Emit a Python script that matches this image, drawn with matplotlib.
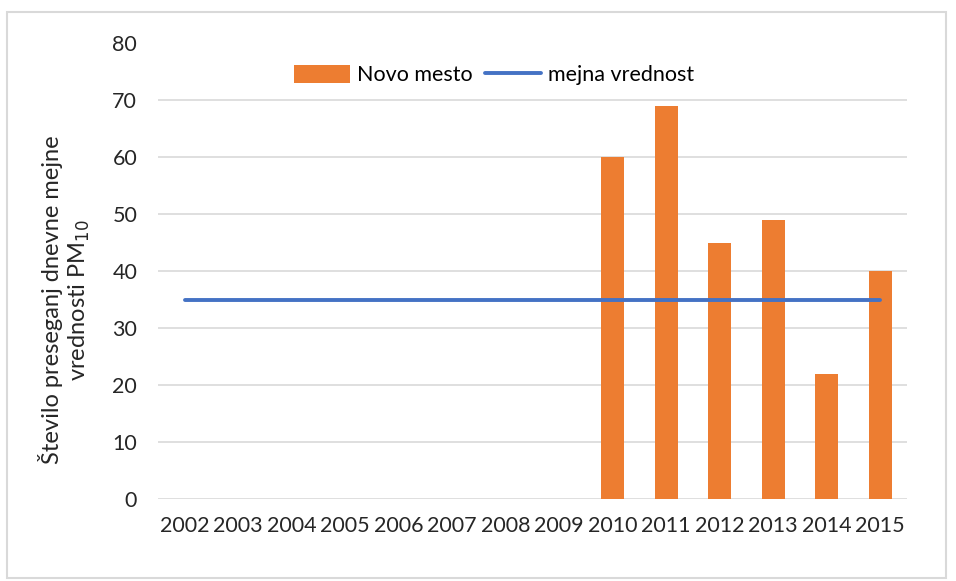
import numpy as np
import matplotlib
matplotlib.use("Agg")
import matplotlib.pyplot as plt
from matplotlib.patches import Rectangle

# podatki
leta = ["2002", "2003", "2004", "2005", "2006", "2007", "2008",
        "2009", "2010", "2011", "2012", "2013", "2014", "2015"]
novo_mesto = [np.nan, np.nan, np.nan, np.nan, np.nan, np.nan, np.nan,
              np.nan, 60, 69, 45, 49, 22, 40]
mejna = [35] * 14

plt.rcParams['font.family'] = ['Lato', 'DejaVu Sans']

fig = plt.figure(figsize=(9.56, 5.81), dpi=100)
ax = fig.add_axes([158 / 956, 1 - 499 / 581, 749 / 956, 456 / 581])

x = np.arange(len(leta))
stolpci = ax.bar(x, novo_mesto, width=0.43, color="#ED7D31", label="Novo mesto", zorder=2)
crta, = ax.plot(x, mejna, color="#4472C4", linewidth=2.8, label="mejna vrednost",
                solid_capstyle="round", zorder=3)

ax.set_xlim(-0.5, len(leta) - 0.5)
ax.set_ylim(0, 80)
ax.set_yticks(range(0, 90, 10))
ax.set_xticks(x)
ax.set_xticklabels(leta)
ax.tick_params(axis="both", length=0, labelsize=15.5, colors="#262626")
ax.tick_params(axis="x", pad=12)
ax.tick_params(axis="y", pad=15)

# mreza brez zgornje crte
for v in range(0, 80, 10):
    ax.axhline(v, color="#D9D9D9", linewidth=1.2, zorder=1)
for s in ax.spines.values():
    s.set_visible(False)

ax.set_ylabel("Število preseganj dnevne mejne\nvrednosti PM$_{10}$",
              fontsize=17, color="#262626", linespacing=1.2)
ax.yaxis.set_label_coords(-0.088, 0.436)

fig.legend([stolpci, crta], ["Novo mesto", "mejna vrednost"],
           loc="center", bbox_to_anchor=(494 / 956, 1 - 75 / 581), ncol=2,
           frameon=False, fontsize=15.5, handlelength=2.6, handleheight=0.9,
           columnspacing=0.6, handletextpad=0.3)

# okvir grafa
fig.patches.append(Rectangle((7 / 956, 1 - 578 / 581), 939 / 956, 566 / 581,
                             transform=fig.transFigure, fill=False,
                             edgecolor="#D9D9D9", linewidth=1.5))

fig.savefig("out.png", dpi=100)
